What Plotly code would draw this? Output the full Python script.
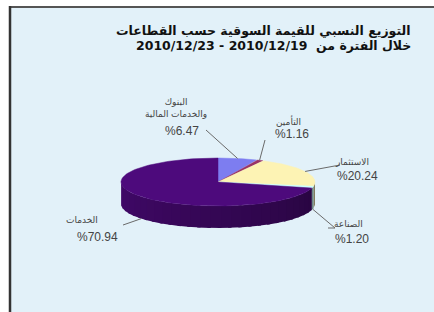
import numpy as np
import plotly.graph_objects as go

# ---- data ----
categories = ["البنوك<br>والخدمات المالية", "التأمين", "الاستثمار", "الصناعة", "الخدمات"]
values = [6.47, 1.16, 20.24, 1.20, 70.94]
title_lines = ["التوزيع النسبي للقيمة السوقية حسب القطاعات",
               "خلال الفترة من  2010/12/19 - 2010/12/23"]

# ---- style / layout ----
top_colors = [(125, 125, 240), (153, 51, 102), (253, 243, 180), (204, 255, 255), (77, 10, 124)]
cx, cy, a, b, depth = 218, 182, 97, 24, 22
name_pos = [(176, 108), (288, 121), (352, 162), (348, 224), (82, 220)]
pct_pos = [(182, 131), (292, 134), (357, 176), (352, 239), (97, 237)]
leader_out = [[(206, 130)], [(265, 140)], [(340, 165)], [(335, 228), (328, 228)], [(123, 225)]]
FONT = "Liberation Sans, DejaVu Sans, sans-serif"


def rgb(c, f=1.0):
    return "rgb(%d,%d,%d)" % tuple(int(round(v * f)) for v in c)


def rim(theta):
    t = np.radians(theta)
    return cx + a * np.sin(t), cy - b * np.cos(t)


fig = go.Figure()
total = sum(values)
bounds = np.concatenate([[0], np.cumsum(values) / total * 360])

# side walls (front part only), shaded darker toward the right
for i in range(len(values)):
    lo, hi = max(bounds[i], 90), min(bounds[i + 1], 270)
    if lo < hi:
        nseg = max(1, int((hi - lo) / 6))
        edges = np.linspace(lo, hi, nseg + 1)
        for s in range(nseg):
            end = min(edges[s + 1] + 2.0, hi)
            th = np.linspace(edges[s], end, 14)
            xs, ys = rim(th)
            px = np.concatenate([xs, xs[::-1]])
            py = np.concatenate([ys, ys[::-1] + depth])
            mid = (edges[s] + edges[s + 1]) / 2
            f = 0.5 + 0.35 * (mid - 90) / 180
            col = rgb(top_colors[i], f)
            fig.add_trace(go.Scatter(x=px, y=py, mode="lines", fill="toself",
                                     fillcolor=col, line=dict(width=0),
                                     hoverinfo="skip", showlegend=False))

# top faces
for i in range(len(values)):
    th = np.linspace(bounds[i], bounds[i + 1], 120)
    xs, ys = rim(th)
    px = np.concatenate([[cx], xs, [cx]])
    py = np.concatenate([[cy], ys, [cy]])
    col = rgb(top_colors[i])
    fig.add_trace(go.Scatter(x=px, y=py, mode="lines", fill="toself",
                             fillcolor=col, line=dict(color=col, width=0.5),
                             hoverinfo="skip", showlegend=False))

# leader lines and labels
for i in range(len(values)):
    mid = (bounds[i] + bounds[i + 1]) / 2
    x0, y0 = rim(mid)
    if 90 <= mid <= 270:
        y0 += depth
    pts = [(float(x0), float(y0))] + leader_out[i]
    fig.add_trace(go.Scatter(x=[p[0] for p in pts], y=[p[1] for p in pts], mode="lines",
                             line=dict(color="#6a6a6a", width=1),
                             hoverinfo="skip", showlegend=False))
    fig.add_annotation(x=name_pos[i][0], y=name_pos[i][1], text=categories[i],
                       showarrow=False, xanchor="center", yanchor="middle",
                       font=dict(family=FONT, size=9, color="#444444"))
    fig.add_annotation(x=pct_pos[i][0], y=pct_pos[i][1], text="%" + f"{values[i]:.2f}",
                       showarrow=False, xanchor="center", yanchor="middle",
                       font=dict(family=FONT, size=12, color="#444444"))

# title
for k, line in enumerate(title_lines):
    fig.add_annotation(x=413, y=30 + k * 15, text="<b>" + line + "</b>",
                       showarrow=False, xanchor="right", yanchor="middle",
                       font=dict(family="DejaVu Sans, sans-serif", size=12.5, color="#111111"))

# frame
fig.add_shape(type="rect", x0=10, y0=7, x1=440, y1=320, fillcolor="#e2f1f9",
              line=dict(width=0), layer="below")
fig.add_shape(type="line", x0=9, y0=7, x1=440, y1=7, line=dict(color="#555555", width=2))
fig.add_shape(type="line", x0=10, y0=6, x1=10, y1=320, line=dict(color="#333333", width=2.5))

fig.update_layout(width=434, height=312, margin=dict(l=0, r=0, t=0, b=0),
                  paper_bgcolor="white", plot_bgcolor="white",
                  xaxis=dict(range=[0, 434], visible=False, fixedrange=True),
                  yaxis=dict(range=[312, 0], visible=False, fixedrange=True),
                  showlegend=False)
fig.write_html("out.html", config={"displayModeBar": False},
               post_script="document.body.style.margin='0';document.body.style.overflow='hidden';")
